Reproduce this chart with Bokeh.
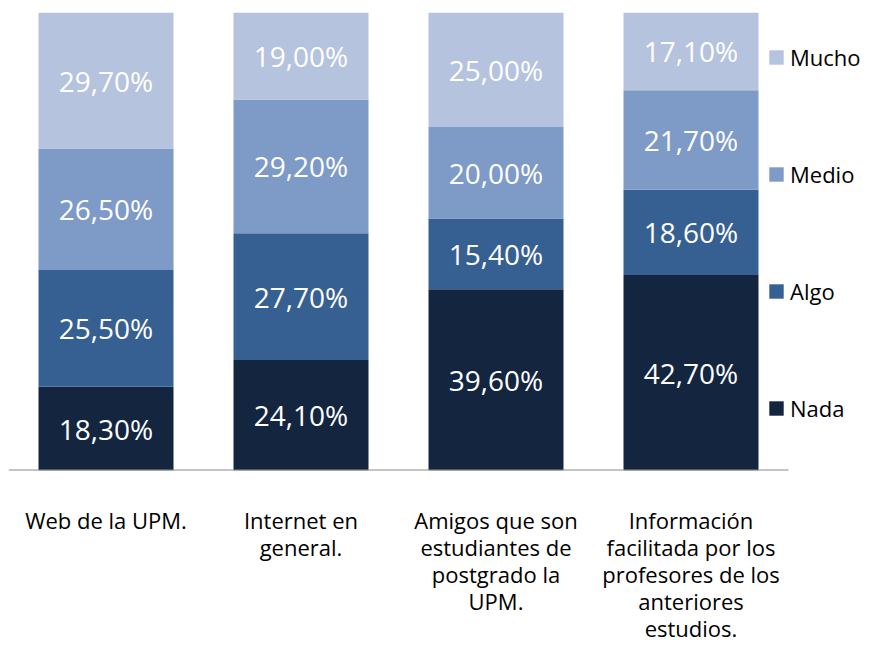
from bokeh.plotting import figure
from bokeh.models import Range1d, FixedTicker, Legend, LegendItem, ColumnDataSource
from bokeh.core.properties import value
from bokeh.embed import file_html
from bokeh.resources import INLINE

categories = [
    "Web de la UPM.",
    "Internet en\ngeneral.",
    "Amigos que son\nestudiantes de\npostgrado la\nUPM.",
    "Información\nfacilitada por los\nprofesores de los\nanteriores\nestudios.",
]
levels = ["Nada", "Algo", "Medio", "Mucho"]
nada = [18.3, 24.1, 39.6, 42.7]
algo = [25.5, 27.7, 15.4, 18.6]
medio = [26.5, 29.2, 20.0, 21.7]
mucho = [29.7, 19.0, 25.0, 17.1]
colors = ["#14263F", "#376092", "#7E9AC7", "#B5C3DE"]

series = [nada, algo, medio, mucho]
xpos = [i + 0.5 for i in range(len(categories))]

W, H = 864, 645
LEFT, TOP, BOTTOM = 8, 12, 175
unit_px = 195.0

p = figure(width=W, height=H, output_backend="svg", toolbar_location=None,
           x_range=Range1d(0, (W - LEFT) / unit_px), y_range=Range1d(0, 100),
           y_axis_location=None, min_border_left=LEFT, min_border_right=0,
           min_border_top=TOP, min_border_bottom=BOTTOM)
p.outline_line_color = None
p.xgrid.visible = False
p.ygrid.visible = False

data = {"x": xpos}
for lev, s in zip(levels, series):
    data[lev] = s
src = ColumnDataSource(data)
rends = p.vbar_stack(levels, x="x", width=135 / unit_px, color=colors, source=src,
                     line_color=None)

# value labels
lx, ly, lt = [], [], []
for i in range(len(categories)):
    base = 0.0
    for s in series:
        v = s[i]
        lx.append(xpos[i])
        ly.append(base + v / 2)
        lt.append(("%.2f%%" % v).replace(".", ","))
        base += v
p.text(x=lx, y=ly, text=lt, text_align="center", text_baseline="middle",
       text_font=value("Open Sans"), text_font_size="28px", text_color="white")

# baseline
p.segment(x0=[0], y0=[0], x1=[len(categories)], y1=[0], line_color="#8C8C8C", line_width=2)

ax = p.xaxis[0]
ax.ticker = FixedTicker(ticks=xpos)
ax.major_label_overrides = {x: c for x, c in zip(xpos, categories)}
ax.axis_line_color = None
ax.major_tick_line_color = None
ax.minor_tick_line_color = None
ax.major_label_standoff = 28
ax.major_label_text_font = "Open Sans"
ax.major_label_text_font_size = "22px"
ax.major_label_text_color = "#000000"
ax.major_label_text_line_height = 0.9

items = [LegendItem(label=lev, renderers=[r]) for lev, r in zip(levels, rends)][::-1]
legend = Legend(items=items, location=(759, 47), padding=0, margin=0,
                border_line_color=None, background_fill_alpha=0,
                glyph_width=18, glyph_height=18, label_standoff=5,
                label_text_font="Open Sans", label_text_font_size="22px",
                label_text_color="#000000", spacing=87)
p.add_layout(legend)

open("out.html", "w").write(file_html(p, INLINE))
